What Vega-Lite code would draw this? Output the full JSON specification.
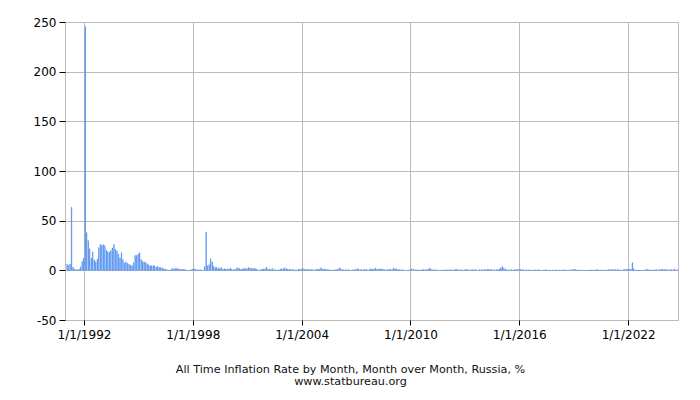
{
  "$schema": "https://vega.github.io/schema/vega-lite/v6.json",
  "width": 613,
  "height": 298,
  "autosize": {"type": "none"},
  "padding": {"left": 65, "top": 22, "right": 22, "bottom": 80},
  "background": "white",
  "config": {
    "font": "DejaVu Sans",
    "view": {"stroke": "#bbbbbb", "strokeWidth": 1}
  },
  "title": {
    "text": ["All Time Inflation Rate by Month, Month over Month, Russia, %", "www.statbureau.org"],
    "orient": "bottom",
    "anchor": "middle",
    "font": "DejaVu Sans",
    "fontSize": 11.2,
    "fontWeight": "normal",
    "lineHeight": 12,
    "color": "#111111",
    "offset": 24,
    "dx": -21
  },
  "data": {
    "values": [
      {"d":"1991-01","v":6.2},{"d":"1991-02","v":4.8},{"d":"1991-03","v":6.3},{"d":"1991-04","v":63.5},{"d":"1991-05","v":3.0},{"d":"1991-06","v":1.2},{"d":"1991-07","v":0.6},{"d":"1991-08","v":0.5},{"d":"1991-09","v":1.1},{"d":"1991-10","v":3.5},{"d":"1991-11","v":8.9},{"d":"1991-12","v":12.1},
      {"d":"1992-01","v":245.3},{"d":"1992-02","v":38.0},{"d":"1992-03","v":29.9},{"d":"1992-04","v":21.7},{"d":"1992-05","v":12.0},{"d":"1992-06","v":18.6},{"d":"1992-07","v":10.6},{"d":"1992-08","v":8.6},{"d":"1992-09","v":11.5},{"d":"1992-10","v":22.9},{"d":"1992-11","v":26.1},{"d":"1992-12","v":25.2},
      {"d":"1993-01","v":25.8},{"d":"1993-02","v":24.7},{"d":"1993-03","v":20.1},{"d":"1993-04","v":18.7},{"d":"1993-05","v":18.1},{"d":"1993-06","v":19.9},{"d":"1993-07","v":22.4},{"d":"1993-08","v":26.0},{"d":"1993-09","v":21.1},{"d":"1993-10","v":19.5},{"d":"1993-11","v":16.4},{"d":"1993-12","v":12.5},
      {"d":"1994-01","v":17.9},{"d":"1994-02","v":10.8},{"d":"1994-03","v":7.4},{"d":"1994-04","v":8.5},{"d":"1994-05","v":6.9},{"d":"1994-06","v":6.0},{"d":"1994-07","v":5.3},{"d":"1994-08","v":4.6},{"d":"1994-09","v":7.7},{"d":"1994-10","v":15.0},{"d":"1994-11","v":15.0},{"d":"1994-12","v":16.4},
      {"d":"1995-01","v":17.8},{"d":"1995-02","v":11.0},{"d":"1995-03","v":8.9},{"d":"1995-04","v":8.5},{"d":"1995-05","v":7.9},{"d":"1995-06","v":6.7},{"d":"1995-07","v":5.4},{"d":"1995-08","v":4.6},{"d":"1995-09","v":4.5},{"d":"1995-10","v":4.7},{"d":"1995-11","v":4.5},{"d":"1995-12","v":3.2},
      {"d":"1996-01","v":4.1},{"d":"1996-02","v":2.8},{"d":"1996-03","v":2.8},{"d":"1996-04","v":2.2},{"d":"1996-05","v":1.6},{"d":"1996-06","v":1.2},{"d":"1996-07","v":0.7},{"d":"1996-08","v":-0.2},{"d":"1996-09","v":0.3},{"d":"1996-10","v":1.2},{"d":"1996-11","v":1.9},{"d":"1996-12","v":1.4},
      {"d":"1997-01","v":2.3},{"d":"1997-02","v":1.5},{"d":"1997-03","v":1.4},{"d":"1997-04","v":1.0},{"d":"1997-05","v":0.9},{"d":"1997-06","v":1.1},{"d":"1997-07","v":0.9},{"d":"1997-08","v":0.1},{"d":"1997-09","v":-0.3},{"d":"1997-10","v":0.2},{"d":"1997-11","v":0.6},{"d":"1997-12","v":1.0},
      {"d":"1998-01","v":1.5},{"d":"1998-02","v":0.9},{"d":"1998-03","v":0.6},{"d":"1998-04","v":0.4},{"d":"1998-05","v":0.5},{"d":"1998-06","v":0.1},{"d":"1998-07","v":0.2},{"d":"1998-08","v":3.7},{"d":"1998-09","v":38.4},{"d":"1998-10","v":4.5},{"d":"1998-11","v":5.7},{"d":"1998-12","v":11.6},
      {"d":"1999-01","v":8.4},{"d":"1999-02","v":4.1},{"d":"1999-03","v":2.8},{"d":"1999-04","v":3.0},{"d":"1999-05","v":2.2},{"d":"1999-06","v":1.9},{"d":"1999-07","v":2.8},{"d":"1999-08","v":1.2},{"d":"1999-09","v":1.5},{"d":"1999-10","v":1.4},{"d":"1999-11","v":1.2},{"d":"1999-12","v":1.3},
      {"d":"2000-01","v":2.3},{"d":"2000-02","v":1.0},{"d":"2000-03","v":0.6},{"d":"2000-04","v":0.9},{"d":"2000-05","v":1.8},{"d":"2000-06","v":2.6},{"d":"2000-07","v":1.8},{"d":"2000-08","v":1.0},{"d":"2000-09","v":1.3},{"d":"2000-10","v":2.1},{"d":"2000-11","v":1.5},{"d":"2000-12","v":1.6},
      {"d":"2001-01","v":2.8},{"d":"2001-02","v":2.3},{"d":"2001-03","v":1.9},{"d":"2001-04","v":1.8},{"d":"2001-05","v":1.8},{"d":"2001-06","v":1.6},{"d":"2001-07","v":0.5},{"d":"2001-08","v":0.0},{"d":"2001-09","v":0.6},{"d":"2001-10","v":1.1},{"d":"2001-11","v":1.4},{"d":"2001-12","v":1.6},
      {"d":"2002-01","v":3.1},{"d":"2002-02","v":1.2},{"d":"2002-03","v":1.1},{"d":"2002-04","v":1.2},{"d":"2002-05","v":1.7},{"d":"2002-06","v":0.5},{"d":"2002-07","v":0.7},{"d":"2002-08","v":0.1},{"d":"2002-09","v":0.4},{"d":"2002-10","v":1.1},{"d":"2002-11","v":1.6},{"d":"2002-12","v":1.5},
      {"d":"2003-01","v":2.4},{"d":"2003-02","v":1.6},{"d":"2003-03","v":1.1},{"d":"2003-04","v":1.0},{"d":"2003-05","v":0.8},{"d":"2003-06","v":0.8},{"d":"2003-07","v":0.7},{"d":"2003-08","v":-0.4},{"d":"2003-09","v":0.3},{"d":"2003-10","v":1.0},{"d":"2003-11","v":1.0},{"d":"2003-12","v":1.1},
      {"d":"2004-01","v":1.8},{"d":"2004-02","v":1.0},{"d":"2004-03","v":0.8},{"d":"2004-04","v":1.0},{"d":"2004-05","v":0.7},{"d":"2004-06","v":0.8},{"d":"2004-07","v":0.9},{"d":"2004-08","v":0.4},{"d":"2004-09","v":0.4},{"d":"2004-10","v":1.1},{"d":"2004-11","v":1.1},{"d":"2004-12","v":1.1},
      {"d":"2005-01","v":2.6},{"d":"2005-02","v":1.2},{"d":"2005-03","v":1.3},{"d":"2005-04","v":1.1},{"d":"2005-05","v":0.8},{"d":"2005-06","v":0.6},{"d":"2005-07","v":0.5},{"d":"2005-08","v":-0.1},{"d":"2005-09","v":0.3},{"d":"2005-10","v":0.6},{"d":"2005-11","v":0.7},{"d":"2005-12","v":0.8},
      {"d":"2006-01","v":2.4},{"d":"2006-02","v":1.7},{"d":"2006-03","v":0.8},{"d":"2006-04","v":0.4},{"d":"2006-05","v":0.5},{"d":"2006-06","v":0.3},{"d":"2006-07","v":0.7},{"d":"2006-08","v":0.2},{"d":"2006-09","v":0.1},{"d":"2006-10","v":0.3},{"d":"2006-11","v":0.6},{"d":"2006-12","v":0.8},
      {"d":"2007-01","v":1.7},{"d":"2007-02","v":1.1},{"d":"2007-03","v":0.6},{"d":"2007-04","v":0.6},{"d":"2007-05","v":0.6},{"d":"2007-06","v":1.0},{"d":"2007-07","v":0.9},{"d":"2007-08","v":0.1},{"d":"2007-09","v":0.8},{"d":"2007-10","v":1.6},{"d":"2007-11","v":1.2},{"d":"2007-12","v":1.1},
      {"d":"2008-01","v":2.3},{"d":"2008-02","v":1.2},{"d":"2008-03","v":1.2},{"d":"2008-04","v":1.4},{"d":"2008-05","v":1.4},{"d":"2008-06","v":1.0},{"d":"2008-07","v":0.5},{"d":"2008-08","v":0.4},{"d":"2008-09","v":0.8},{"d":"2008-10","v":0.9},{"d":"2008-11","v":0.8},{"d":"2008-12","v":0.7},
      {"d":"2009-01","v":2.4},{"d":"2009-02","v":1.7},{"d":"2009-03","v":1.3},{"d":"2009-04","v":0.7},{"d":"2009-05","v":0.6},{"d":"2009-06","v":0.6},{"d":"2009-07","v":0.6},{"d":"2009-08","v":0.0},{"d":"2009-09","v":0.0},{"d":"2009-10","v":0.0},{"d":"2009-11","v":0.3},{"d":"2009-12","v":0.4},
      {"d":"2010-01","v":1.6},{"d":"2010-02","v":0.9},{"d":"2010-03","v":0.6},{"d":"2010-04","v":0.3},{"d":"2010-05","v":0.5},{"d":"2010-06","v":0.4},{"d":"2010-07","v":0.4},{"d":"2010-08","v":0.6},{"d":"2010-09","v":0.8},{"d":"2010-10","v":0.5},{"d":"2010-11","v":0.8},{"d":"2010-12","v":1.1},
      {"d":"2011-01","v":2.4},{"d":"2011-02","v":0.8},{"d":"2011-03","v":0.6},{"d":"2011-04","v":0.4},{"d":"2011-05","v":0.5},{"d":"2011-06","v":0.2},{"d":"2011-07","v":0.0},{"d":"2011-08","v":-0.2},{"d":"2011-09","v":0.0},{"d":"2011-10","v":0.5},{"d":"2011-11","v":0.4},{"d":"2011-12","v":0.4},
      {"d":"2012-01","v":0.5},{"d":"2012-02","v":0.4},{"d":"2012-03","v":0.6},{"d":"2012-04","v":0.3},{"d":"2012-05","v":0.5},{"d":"2012-06","v":0.9},{"d":"2012-07","v":1.2},{"d":"2012-08","v":0.1},{"d":"2012-09","v":0.6},{"d":"2012-10","v":0.5},{"d":"2012-11","v":0.3},{"d":"2012-12","v":0.5},
      {"d":"2013-01","v":1.0},{"d":"2013-02","v":0.6},{"d":"2013-03","v":0.3},{"d":"2013-04","v":0.5},{"d":"2013-05","v":0.7},{"d":"2013-06","v":0.4},{"d":"2013-07","v":0.8},{"d":"2013-08","v":0.1},{"d":"2013-09","v":0.2},{"d":"2013-10","v":0.6},{"d":"2013-11","v":0.6},{"d":"2013-12","v":0.5},
      {"d":"2014-01","v":0.6},{"d":"2014-02","v":0.7},{"d":"2014-03","v":1.0},{"d":"2014-04","v":0.9},{"d":"2014-05","v":0.9},{"d":"2014-06","v":0.6},{"d":"2014-07","v":0.5},{"d":"2014-08","v":0.2},{"d":"2014-09","v":0.7},{"d":"2014-10","v":0.8},{"d":"2014-11","v":1.3},{"d":"2014-12","v":2.6},
      {"d":"2015-01","v":3.9},{"d":"2015-02","v":2.2},{"d":"2015-03","v":1.2},{"d":"2015-04","v":0.5},{"d":"2015-05","v":0.4},{"d":"2015-06","v":0.2},{"d":"2015-07","v":0.8},{"d":"2015-08","v":0.4},{"d":"2015-09","v":0.6},{"d":"2015-10","v":0.7},{"d":"2015-11","v":0.8},{"d":"2015-12","v":0.8},
      {"d":"2016-01","v":1.0},{"d":"2016-02","v":0.6},{"d":"2016-03","v":0.5},{"d":"2016-04","v":0.4},{"d":"2016-05","v":0.4},{"d":"2016-06","v":0.4},{"d":"2016-07","v":0.5},{"d":"2016-08","v":0.0},{"d":"2016-09","v":0.2},{"d":"2016-10","v":0.4},{"d":"2016-11","v":0.4},{"d":"2016-12","v":0.4},
      {"d":"2017-01","v":0.6},{"d":"2017-02","v":0.2},{"d":"2017-03","v":0.1},{"d":"2017-04","v":0.3},{"d":"2017-05","v":0.4},{"d":"2017-06","v":0.6},{"d":"2017-07","v":0.1},{"d":"2017-08","v":-0.5},{"d":"2017-09","v":-0.1},{"d":"2017-10","v":0.2},{"d":"2017-11","v":0.2},{"d":"2017-12","v":0.4},
      {"d":"2018-01","v":0.3},{"d":"2018-02","v":0.2},{"d":"2018-03","v":0.3},{"d":"2018-04","v":0.4},{"d":"2018-05","v":0.4},{"d":"2018-06","v":0.5},{"d":"2018-07","v":0.3},{"d":"2018-08","v":0.0},{"d":"2018-09","v":0.2},{"d":"2018-10","v":0.4},{"d":"2018-11","v":0.5},{"d":"2018-12","v":0.8},
      {"d":"2019-01","v":1.0},{"d":"2019-02","v":0.4},{"d":"2019-03","v":0.3},{"d":"2019-04","v":0.3},{"d":"2019-05","v":0.3},{"d":"2019-06","v":0.0},{"d":"2019-07","v":0.2},{"d":"2019-08","v":-0.2},{"d":"2019-09","v":-0.2},{"d":"2019-10","v":0.1},{"d":"2019-11","v":0.3},{"d":"2019-12","v":0.4},
      {"d":"2020-01","v":0.4},{"d":"2020-02","v":0.3},{"d":"2020-03","v":0.6},{"d":"2020-04","v":0.8},{"d":"2020-05","v":0.3},{"d":"2020-06","v":0.2},{"d":"2020-07","v":0.4},{"d":"2020-08","v":0.0},{"d":"2020-09","v":-0.1},{"d":"2020-10","v":0.4},{"d":"2020-11","v":0.7},{"d":"2020-12","v":0.8},
      {"d":"2021-01","v":0.7},{"d":"2021-02","v":0.8},{"d":"2021-03","v":0.7},{"d":"2021-04","v":0.6},{"d":"2021-05","v":0.7},{"d":"2021-06","v":0.7},{"d":"2021-07","v":0.3},{"d":"2021-08","v":0.2},{"d":"2021-09","v":0.6},{"d":"2021-10","v":1.1},{"d":"2021-11","v":1.0},{"d":"2021-12","v":0.8},
      {"d":"2022-01","v":1.0},{"d":"2022-02","v":1.2},{"d":"2022-03","v":7.6},{"d":"2022-04","v":1.6},{"d":"2022-05","v":0.1},{"d":"2022-06","v":-0.4},{"d":"2022-07","v":-0.4},{"d":"2022-08","v":-0.5},{"d":"2022-09","v":0.1},{"d":"2022-10","v":0.2},{"d":"2022-11","v":0.4},{"d":"2022-12","v":0.8},
      {"d":"2023-01","v":0.8},{"d":"2023-02","v":0.5},{"d":"2023-03","v":0.4},{"d":"2023-04","v":0.4},{"d":"2023-05","v":0.3},{"d":"2023-06","v":0.6},{"d":"2023-07","v":0.6},{"d":"2023-08","v":0.3},{"d":"2023-09","v":0.9},{"d":"2023-10","v":0.8},{"d":"2023-11","v":1.1},{"d":"2023-12","v":0.7},
      {"d":"2024-01","v":0.9},{"d":"2024-02","v":0.7},{"d":"2024-03","v":0.4},{"d":"2024-04","v":0.5},{"d":"2024-05","v":0.7},{"d":"2024-06","v":0.6},{"d":"2024-07","v":1.1},{"d":"2024-08","v":0.2},{"d":"2024-09","v":0.5}
    ]
  },
  "mark": {"type": "bar", "color": "#3b82f0", "stroke": "#3b82f0", "strokeWidth": 0.45, "timeUnitBandSize": 0.85, "clip": true},
  "encoding": {
    "x": {
      "field": "d",
      "type": "temporal",
      "timeUnit": "utcyearmonth",
      "scale": {"type": "utc", "domain": [{"year": 1990, "month": 12, "date": 15, "utc": true}, {"year": 2024, "month": 10, "date": 1, "utc": true}], "nice": false},
      "axis": {
        "title": null,
        "values": [
          {"year": 1992, "month": 1, "date": 1, "utc": true},
          {"year": 1998, "month": 1, "date": 1, "utc": true},
          {"year": 2004, "month": 1, "date": 1, "utc": true},
          {"year": 2010, "month": 1, "date": 1, "utc": true},
          {"year": 2016, "month": 1, "date": 1, "utc": true},
          {"year": 2022, "month": 1, "date": 1, "utc": true}
        ],
        "format": "%-m/%-d/%Y",
        "domain": false,
        "grid": true,
        "gridColor": "#bbbbbb",
        "gridOpacity": 1,
        "ticks": true,
        "tickColor": "#000000",
        "tickSize": 5,
        "labelFont": "DejaVu Sans",
        "labelFontSize": 12,
        "labelColor": "#000000",
        "labelPadding": 4,
        "labelFlush": false,
        "labelOverlap": false
      }
    },
    "y": {
      "field": "v",
      "type": "quantitative",
      "scale": {"domain": [-50, 250], "nice": false, "zero": true},
      "axis": {
        "title": null,
        "values": [-50, 0, 50, 100, 150, 200, 250],
        "labelExpr": "'' + datum.value",
        "domain": false,
        "grid": true,
        "gridColor": "#bbbbbb",
        "gridOpacity": 1,
        "ticks": true,
        "tickColor": "#000000",
        "tickSize": 6,
        "labelFont": "DejaVu Sans",
        "labelFontSize": 12,
        "labelColor": "#000000",
        "labelPadding": 3,
        "labelFlush": false,
        "labelOverlap": false
      }
    }
  }
}
